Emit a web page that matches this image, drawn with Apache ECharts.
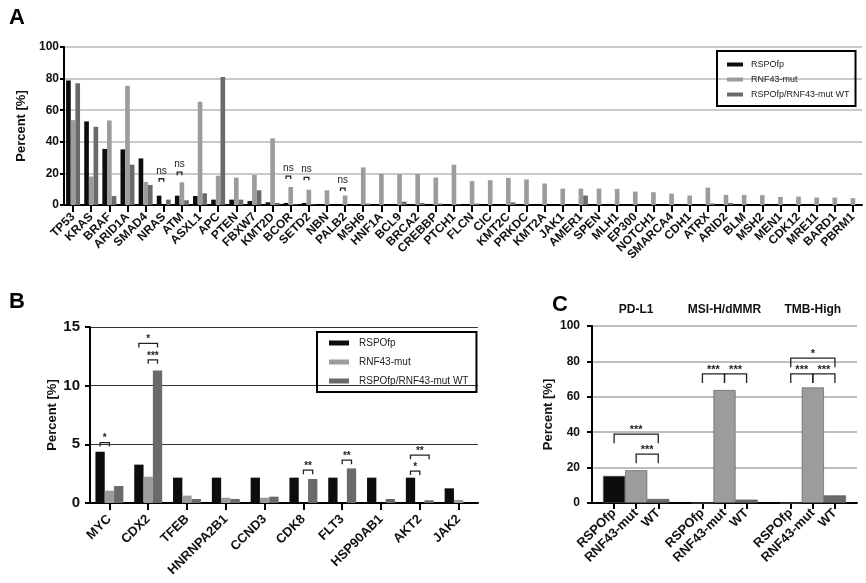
<!DOCTYPE html>
<html><head><meta charset="utf-8">
<script src="https://cdn.jsdelivr.net/npm/echarts@6/dist/echarts.min.js"></script>
<style>html,body{margin:0;padding:0;background:#fff}#c{width:866px;height:583px}</style>
</head><body><div id="c"></div>
<script>
// ---------- Panel A data ----------
const genesA = ['TP53','KRAS','BRAF','ARID1A','SMAD4','NRAS','ATM','ASXL1','APC','PTEN','FBXW7','KMT2D','BCOR','SETD2','NBN','PALB2','MSH6','HNF1A','BCL9','BRCA2','CREBBP','PTCH1','FLCN','CIC','KMT2C','PRKDC','KMT2A','JAK1','AMER1','SPEN','MLH1','EP300','NOTCH1','SMARCA4','CDH1','ATRX','ARID2','BLM','MSH2','MEN1','CDK12','MRE11','BARD1','PBRM1'];
const aRSPO = [78.8,52.9,35.5,35.2,29.5,5.9,5.9,5.7,3.4,3.4,2.5,1.7,1.3,1.3,0.5,0.5,0,0,0,0,0,0,0,0,0,0,0,0,0,0,0,0,0,0,0,0,0,0,0,0,0,0,0,0];
const aRNF  = [53.7,18,53.5,75.4,14.6,0,14.4,65.4,18.5,17.3,19,42.2,11.4,9.7,9.3,6,23.8,19.8,19.6,19.6,17.4,25.5,15.1,15.7,17.2,16.2,13.6,10.4,10.4,10.4,10.2,8.5,8.1,7.2,6,11,6.4,6.4,6.2,5.1,5.3,4.7,4.7,4.3];
const aWT   = [77,49.5,5.7,25.5,12.7,3.4,3.0,7.4,81,3.4,9.3,1.3,0.4,0.3,0,0,0.9,0,2.1,1.3,0.9,0.4,0.9,0,1.7,0,0,0,6,0,0,0,0,0,0,1,1.3,0,0,0,0,0,0,0];
// [category, fromBar, toBar, y, label]
const sigA = [[5,0,1,16.6,'ns'],[6,0,1,20.8,'ns'],[12,0,1,18.3,'ns'],[13,0,1,17.5,'ns'],[15,0,1,10.7,'ns']];

// ---------- Panel B data ----------
const genesB = ['MYC','CDX2','TFEB','HNRNPA2B1','CCND3','CDK8','FLT3','HSP90AB1','AKT2','JAK2'];
const bRSPO = [4.37,3.27,2.16,2.16,2.16,2.16,2.16,2.16,2.16,1.25];
const bRNF  = [1.05,2.24,0.63,0.45,0.45,0,0,0,0,0.26];
const bWT   = [1.45,11.3,0.34,0.34,0.54,2.05,2.95,0.34,0.23,0];
const sigB = [[0,0,1,5.15,'*'],[1,0,2,13.6,'*'],[1,1,2,12.2,'***'],[5,1,2,2.8,'**'],[6,1,2,3.65,'**'],[8,0,1,2.72,'*'],[8,0,2,4.08,'**']];

// ---------- Panel C data ----------
const catsC = ['','RSPOfp','RNF43-mut','WT','','RSPOfp','RNF43-mut','WT','','RSPOfp','RNF43-mut','WT',''];
const valsC = ['-',15.3,18.5,2.3,'-',0,63.8,1.9,'-',0,65.3,4.3,'-'];
const groupsC = [[2,'PD-L1'],[6,'MSI-H/dMMR'],[10,'TMB-High']];
// [fromCat, toCat, y, label]
const sigC = [[1,3,38.9,'***'],[2,3,27.6,'***'],[5,6,72.9,'***'],[6,7,72.9,'***'],[9,10,72.9,'***'],[10,11,72.9,'***'],[9,11,81.8,'*']];

const names = ['RSPOfp','RNF43-mut','RSPOfp/RNF43-mut WT'];
const cBlack = '#0d0d0d', cLight = '#9c9c9c', cDark = '#6a6a6a';
const colorsC = {'RSPOfp':cBlack,'RNF43-mut':cLight,'WT':cDark};
const FF = '"Liberation Sans", Arial, sans-serif';

const chart = echarts.init(document.getElementById('c'), null, {renderer:'canvas'});

function sigRender(arr, gap, legH, fs) {
  return function(params, api) {
    const d = arr[params.dataIndex];
    const p = api.coord([d[0], d[3]]);
    const band = api.size([1, 0])[0];
    const bw = band * (1 - gap) / 3;
    const x1 = p[0] + (d[1] - 1) * bw, x2 = p[0] + (d[2] - 1) * bw;
    const y = p[1];
    const isStar = d[4].indexOf('*') >= 0;
    return {type:'group', children:[
      {type:'polyline', shape:{points:[[x1,y+legH],[x1,y],[x2,y],[x2,y+legH]]}, style:{stroke:'#222', lineWidth:1.3, fill:null}},
      {type:'text', style:{text:d[4], x:(x1+x2)/2, y: y - (isStar ? 4 : 8), align:'center', verticalAlign:'middle', fontSize:fs, fontWeight: isStar ? 'bold' : 'normal', fontFamily:FF, fill:'#222'}}
    ]};
  };
}
function sigRenderC(params, api) {
  const d = sigC[params.dataIndex];
  const p1 = api.coord([d[0], d[2]]), p2 = api.coord([d[1], d[2]]);
  const y = p1[1];
  return {type:'group', children:[
    {type:'polyline', shape:{points:[[p1[0],y+9],[p1[0],y],[p2[0],y],[p2[0],y+9]]}, style:{stroke:'#222', lineWidth:1.3, fill:null}},
    {type:'text', style:{text:d[3], x:(p1[0]+p2[0])/2, y:y-4, align:'center', verticalAlign:'middle', fontSize:11, fontWeight:'bold', fontFamily:FF, fill:'#222'}}
  ]};
}
function headRenderC(params, api) {
  const d = groupsC[params.dataIndex];
  const p = api.coord([d[0], 100]);
  return {type:'text', style:{text:d[1], x:p[0], y:p[1]-16, align:'center', verticalAlign:'middle', fontSize:12, fontWeight:'bold', fontFamily:FF, fill:'#111'}};
}

const axisLine = {show:true, lineStyle:{color:'#000', width:2}};
const axisTickY = {show:true, length:4, lineStyle:{color:'#000', width:2}};

const option = {
  animation:false,
  backgroundColor:'#fff',
  textStyle:{fontFamily:FF},
  title:[
    {text:'A', left:4, top:2, textStyle:{fontSize:22, fontWeight:'bold', color:'#000', fontFamily:FF}},
    {text:'B', left:4, top:286, textStyle:{fontSize:22, fontWeight:'bold', color:'#000', fontFamily:FF}},
    {text:'C', left:547, top:289, textStyle:{fontSize:22, fontWeight:'bold', color:'#000', fontFamily:FF}}
  ],
  legend:[
    {data:names, left:717, top:51, orient:'vertical', padding:[8,6,6,10], borderColor:'#000', borderWidth:2,
     itemGap:4, itemWidth:16, itemHeight:4, icon:'rect', selectedMode:false,
     textStyle:{fontSize:9, lineHeight:11, color:'#222', fontFamily:FF, padding:[0,0,0,3]}},
    {data:names, left:317, top:332, orient:'vertical', padding:[5,8,5,12], borderColor:'#000', borderWidth:2,
     itemGap:7, itemWidth:20, itemHeight:5, icon:'rect', selectedMode:false,
     textStyle:{fontSize:10, lineHeight:12, color:'#222', fontFamily:FF, padding:[0,0,0,5]}}
  ],
  grid:[
    {left:64, right:4, top:47, bottom:378},
    {left:90, right:388, top:327, bottom:80},
    {left:592, right:9, top:326, bottom:80}
  ],
  xAxis:[
    {type:'category', gridIndex:0, data:genesA, axisLine:axisLine,
     axisTick:{show:true, alignWithLabel:true, length:7, lineStyle:{color:'#000', width:2}},
     axisLabel:{interval:0, rotate:45, fontSize:12, fontWeight:'bold', color:'#111', margin:10, fontFamily:FF}},
    {type:'category', gridIndex:1, data:genesB, axisLine:axisLine,
     axisTick:{show:true, alignWithLabel:true, length:7, lineStyle:{color:'#000', width:2}},
     axisLabel:{interval:0, rotate:45, fontSize:13, fontWeight:'bold', color:'#111', margin:14, fontFamily:FF}},
    {type:'category', gridIndex:2, data:catsC, boundaryGap:false, axisLine:axisLine,
     axisTick:{show:true, length:6, interval:function(i, v){ return v !== ''; }, lineStyle:{color:'#000', width:2}},
     axisLabel:{interval:0, rotate:45, fontSize:13, fontWeight:'bold', color:'#111', margin:8, fontFamily:FF}}
  ],
  yAxis:[
    {type:'value', gridIndex:0, min:0, max:100, interval:20, axisLine:axisLine, axisTick:axisTickY,
     splitLine:{show:true, lineStyle:{color:'#b8b8b8', width:1.5}},
     axisLabel:{fontSize:12, fontWeight:'bold', color:'#111', margin:5, fontFamily:FF},
     name:'Percent [%]', nameLocation:'middle', nameGap:34,
     nameTextStyle:{fontSize:13, fontWeight:'bold', color:'#111', fontFamily:FF}},
    {type:'value', gridIndex:1, min:0, max:15, interval:5, axisLine:axisLine, axisTick:{show:true, length:5, lineStyle:{color:'#000', width:2}},
     splitLine:{show:true, lineStyle:{color:'#333', width:1.2}},
     axisLabel:{fontSize:15, fontWeight:'bold', color:'#111', margin:10, fontFamily:FF},
     name:'Percent [%]', nameLocation:'middle', nameGap:29,
     nameTextStyle:{fontSize:13, fontWeight:'bold', color:'#111', fontFamily:FF}},
    {type:'value', gridIndex:2, min:0, max:100, interval:20, axisLine:axisLine, axisTick:{show:true, length:5, lineStyle:{color:'#000', width:2}},
     splitLine:{show:true, lineStyle:{color:'#a8a8a8', width:1.5}},
     axisLabel:{fontSize:12, fontWeight:'bold', color:'#111', margin:12, fontFamily:FF},
     name:'Percent [%]', nameLocation:'middle', nameGap:37,
     nameTextStyle:{fontSize:13, fontWeight:'bold', color:'#111', fontFamily:FF}}
  ],
  series:[
    {name:names[0], type:'bar', xAxisIndex:0, yAxisIndex:0, data:aRSPO, barGap:'0%', barCategoryGap:'23%', itemStyle:{color:cBlack}},
    {name:names[1], type:'bar', xAxisIndex:0, yAxisIndex:0, data:aRNF, barGap:'0%', barCategoryGap:'23%', itemStyle:{color:cLight}},
    {name:names[2], type:'bar', xAxisIndex:0, yAxisIndex:0, data:aWT, barGap:'0%', barCategoryGap:'23%', itemStyle:{color:cDark}},
    {name:names[0], type:'bar', xAxisIndex:1, yAxisIndex:1, data:bRSPO, barGap:'0%', barCategoryGap:'28%', itemStyle:{color:cBlack}},
    {name:names[1], type:'bar', xAxisIndex:1, yAxisIndex:1, data:bRNF, barGap:'0%', barCategoryGap:'28%', itemStyle:{color:cLight}},
    {name:names[2], type:'bar', xAxisIndex:1, yAxisIndex:1, data:bWT, barGap:'0%', barCategoryGap:'28%', itemStyle:{color:cDark}},
    {name:'C', type:'bar', xAxisIndex:2, yAxisIndex:2, barWidth:'100%',
     data:valsC.map((v,i)=>({value:v, itemStyle:{color:colorsC[catsC[i]] || cLight, borderColor:'#555', borderWidth:0.6}}))},
    {type:'custom', xAxisIndex:0, yAxisIndex:0, renderItem:sigRender(sigA, 0.23, 3, 10), clip:false, silent:true, z:10,
     encode:{x:0, y:3}, data:sigA.map(d=>[d[0],d[1],d[2],d[3]])},
    {type:'custom', xAxisIndex:1, yAxisIndex:1, renderItem:sigRender(sigB, 0.28, 4, 10), clip:false, silent:true, z:10,
     encode:{x:0, y:3}, data:sigB.map(d=>[d[0],d[1],d[2],d[3]])},
    {type:'custom', xAxisIndex:2, yAxisIndex:2, renderItem:sigRenderC, clip:false, silent:true, z:10,
     encode:{x:0, y:2}, data:sigC.map(d=>[d[0],d[1],d[2]])},
    {type:'custom', xAxisIndex:2, yAxisIndex:2, renderItem:headRenderC, clip:false, silent:true, z:10,
     encode:{x:0, y:1}, data:groupsC.map(d=>[d[0],100])}
  ]
};
chart.setOption(option);
</script>
</body></html>
